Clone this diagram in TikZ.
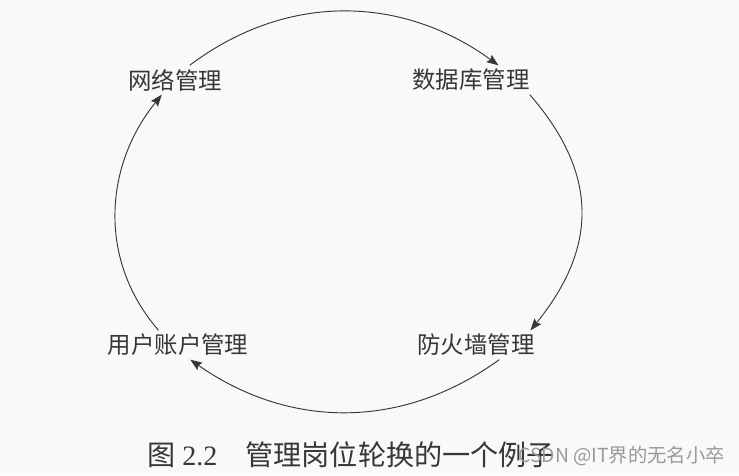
\documentclass[tikz,border=0pt]{standalone}
\usepackage{fontspec}
\setmainfont{Liberation Serif}
\newfontfamily\cjk{Noto Sans CJK SC}
\usetikzlibrary{arrows.meta}
\definecolor{paper}{RGB}{248,249,250}
\definecolor{ink}{RGB}{55,55,55}
\begin{document}
\begin{tikzpicture}[x=0.03cm,y=0.03cm,
		lbl/.style={inner sep=3pt,text=ink,font=\cjk\fontsize{20}{24}\selectfont},
		cyc/.style={draw=ink,line width=0.8pt,-{Stealth[length=10pt,width=7.5pt,inset=1.5pt]}}]
		\fill[paper] (0,0) rectangle (739,475);
		\useasboundingbox (0,0) rectangle (739,475);
		
		\node[lbl] (net) at (175,395) {网络管理};
		\node[lbl] (db) at (471,395) {数据库管理};
		\node[lbl] (fire) at (476,130) {防火墙管理};
		\node[lbl] (user) at (178,130) {用户账户管理};
		
		\draw[cyc] (net.45) to[out=37,in=144] (db.28);
		\draw[cyc] (db.-14) to[out=-49,in=51,looseness=1.15] (fire.15);
		\draw[cyc] (fire.-32) to[out=-144,in=-35] (user.-50);
		\draw[cyc] (user.143) to[out=131,in=-129] (net.-132);
		
		\node[text=ink,font=\fontsize{24}{28}\selectfont] (cap) at (351,20) {{\cjk 图} 2.2\quad {\cjk 管理岗位轮换的一个例子}};
		\node[text=gray!80,font=\cjk\fontsize{16.5}{20}\selectfont,anchor=east] (mark) at (729,19) {CSDN @IT界的无名小卒};
		
	\end{tikzpicture}
\end{document}
